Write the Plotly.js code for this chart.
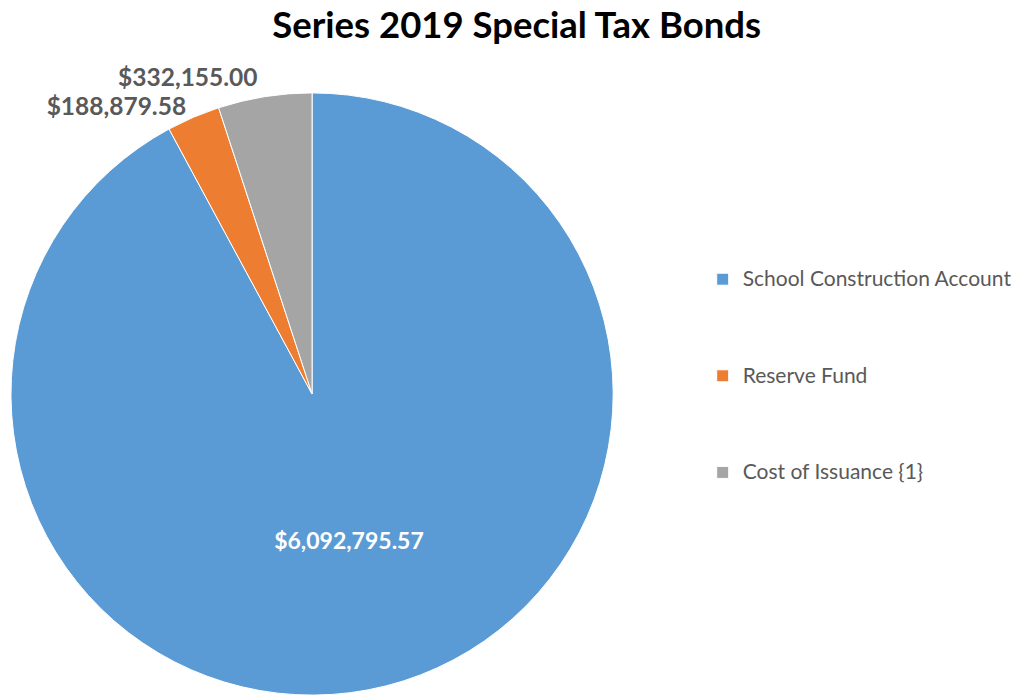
<!DOCTYPE html>
<html><head><meta charset="utf-8">
<script src="https://cdn.plot.ly/plotly-3.0.1.min.js"></script>
<style>html,body{margin:0;padding:0;background:#fff;}#chart{width:1017px;height:696px;}
.pielayer .textline{stroke-opacity:0 !important;}</style>
</head><body><div id="chart"></div>
<script>
const categories = ["School Construction Account", "Reserve Fund", "Cost of Issuance {1}"];
const amounts = [6092795.57, 188879.58, 332155.00];
const amountLabels = ["$6,092,795.57", "$188,879.58", "$332,155.00"];
const colors = ["#5B9BD5", "#ED7D31", "#A5A5A5"];

const legendLabels = categories.map(c => '<span style="font-size:21px">' + c + '</span><br> <br> <br> ');

const trace = {
  type: "pie",
  labels: legendLabels,
  values: amounts,
  text: amountLabels,
  textinfo: "text",
  texttemplate: "<b>%{text}</b>",
  textposition: ["inside", "outside", "outside"],
  insidetextorientation: "horizontal",
  insidetextfont: {color: "#ffffff", size: 23, family: "Lato, sans-serif"},
  outsidetextfont: {color: "#595959", size: 24.5, family: "Lato, sans-serif"},
  marker: {colors: colors, line: {color: "#ffffff", width: 1}},
  sort: false,
  direction: "clockwise",
  rotation: 0,
  showlegend: true,
  hoverinfo: "none",
  domain: {x: [11/1017, 615/1017], y: [0, 604/696]}
};

const layout = {
  width: 1017, height: 696,
  margin: {l: 0, r: 0, t: 0, b: 0},
  paper_bgcolor: "#ffffff",
  title: {text: "<b>Series 2019 Special Tax Bonds</b>", x: 0.508, xanchor: "center", y: 0.964, yanchor: "middle",
          font: {family: "Lato, sans-serif", size: 36.5, color: "#000000"}},
  font: {family: "Lato, sans-serif"},
  showlegend: true,
  legend: {x: 0.693, y: 0.625, xanchor: "left", yanchor: "top", valign: "top",
           font: {family: "Lato, sans-serif", size: 18, color: "#595959"}, itemwidth: 30}
};

Plotly.newPlot("chart", [trace], layout, {displayModeBar: false});
</script>
</body></html>
